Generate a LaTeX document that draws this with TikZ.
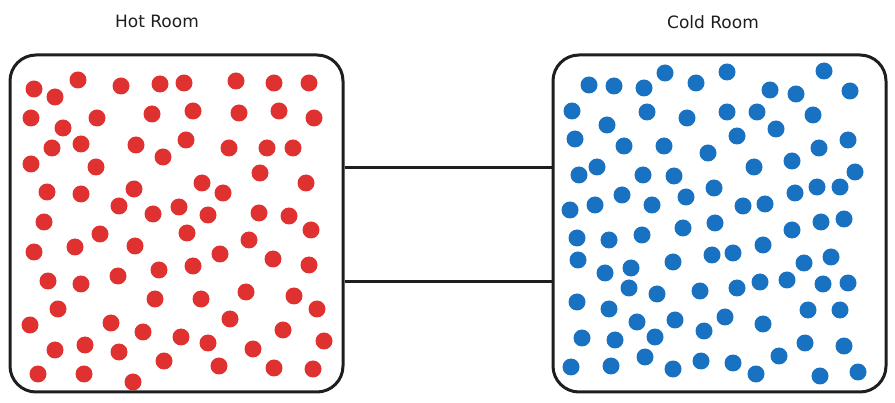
\documentclass[tikz,border=0pt]{standalone}
\usepackage{fontspec}
\setmainfont{DejaVu Sans}
\definecolor{hotred}{HTML}{E03131}
\definecolor{coldblue}{HTML}{1971C2}
\definecolor{inkline}{HTML}{1E1E1E}
\tikzset{
  room/.style={draw=inkline, line width=3pt, rounded corners=26pt, minimum width=333pt, minimum height=337pt, inner sep=0pt},
  roomlabel/.style={font=\fontsize{17}{20}\selectfont, text=inkline},
  pipe/.style={draw=inkline, line width=3pt},
  hotdot/.style={fill=hotred},
  colddot/.style={fill=coldblue}
}
\begin{document}
\begin{tikzpicture}[x=1pt,y=-1pt]
  \useasboundingbox (0,0) rectangle (895,403);
  \node[room] (hot) at (176.5,223.5) {};
  \node[room] (cold) at (719.5,223.5) {};
  \node[roomlabel] (hotlbl) at (157,21) {Hot Room};
  \node[roomlabel] (coldlbl) at (713,22) {Cold Room};
  \draw[pipe] (hot.east |- 0,168) -- (cold.west |- 0,168);
  \draw[pipe] (hot.east |- 0,282) -- (cold.west |- 0,282);
  \foreach \x/\y in {34/89,55/97,78/80,121/86,160/84,184/83,236/81,274/83,309/83,
    31/118,63/128,97/118,152/114,193/111,239/113,279/111,314/118,
    52/148,81/144,136/145,186/140,163/157,229/148,267/148,293/148,
    31/164,96/167,260/173,306/183,47/192,81/194,134/189,202/183,223/193,
    119/206,153/214,179/207,208/215,259/213,289/216,44/222,311/230,100/234,187/233,
    34/252,75/247,135/246,249/240,220/254,159/270,193/266,273/259,309/265,
    48/281,81/284,118/276,155/299,201/299,246/292,294/296,58/309,317/309,
    30/325,111/323,143/332,230/319,283/330,181/337,208/343,324/341,
    55/350,85/345,119/352,253/349,164/361,219/366,274/368,313/369,
    38/374,84/374,133/382}
    \fill[hotdot] (\x,\y) circle (8.5);
  \foreach \x/\y in {589/85,614/86,644/88,665/73,696/83,727/72,770/90,796/94,824/71,850/91,
    572/111,607/125,647/112,687/118,727/112,757/112,813/115,776/129,
    575/139,624/146,664/146,737/136,708/153,819/148,848/140,
    579/175,597/167,643/175,674/176,754/167,792/161,855/172,
    714/188,817/187,840/187,622/195,686/197,795/193,
    570/210,595/205,652/205,743/206,765/204,821/222,844/219,
    683/228,715/223,792/230,577/238,609/240,642/235,
    578/260,605/273,631/268,673/262,712/255,733/253,763/245,804/263,831/257,
    629/288,657/294,700/291,737/288,760/282,787/280,823/284,848/283,
    577/302,609/309,637/322,675/320,725/317,704/331,763/324,808/310,840/310,
    582/338,615/340,655/337,805/343,844/346,779/356,645/357,
    571/367,611/366,673/369,701/361,733/363,756/374,820/376,858/372}
    \fill[colddot] (\x,\y) circle (8.5);
\end{tikzpicture}
\end{document}
